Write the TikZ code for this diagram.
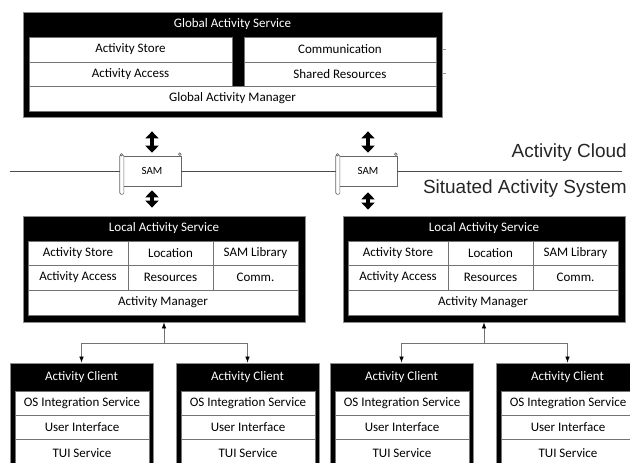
\documentclass[tikz,border=0pt]{standalone}
\usepackage{fontspec}
\setmainfont{Carlito}
\newfontfamily\tierfont{Liberation Sans}
\usetikzlibrary{arrows.meta,calc}

\tikzset{
  panel/.style={fill=black, draw=black!45, line width=0.8pt, inner sep=0pt, anchor=center},
  paneltitle/.style={text=white, inner sep=0pt, anchor=center},
  cell/.style={fill=white, draw=black!55, line width=0.6pt, inner sep=0pt, anchor=center, text=black},
  scroll/.style={fill=white, draw=black!60, line width=0.6pt, inner sep=0pt,
    minimum width=58pt, minimum height=30pt, font=\fontsize{11}{13}\selectfont},
  scrollpart/.style={fill=white, draw=black!60, line width=0.6pt},
  tier/.style={font=\tierfont\fontsize{19}{22}\selectfont, text=black!85, anchor=east, inner sep=0pt},
  boundary/.style={draw=black!70, line width=0.6pt},
  exchange/.style={line width=4.5pt, {Triangle[width=13pt,length=7pt]}-{Triangle[width=13pt,length=7pt]}},
  feed/.style={draw=black!55, line width=0.7pt, -{Latex[length=6pt,width=4.5pt,color=black]}},
  stub/.style={draw=black!40, line width=0.5pt},
}

% a white cell given by its corners: name, x1, y1, x2, y2, text
\newcommand\mkcell[6]{%
  \node[cell, minimum width={#4-#2}, minimum height={#5-#3}] (#1)
    at ({(#2+#4)/2},{(#3+#5)/2}) {#6};}
% a black panel with a title band: name, x1, y1, x2, y2, title, band height
\newcommand\mkpanel[7]{%
  \node[panel, minimum width={#4-#2}, minimum height={#5-#3}] (#1)
    at ({(#2+#4)/2},{(#3+#5)/2}) {};
  \node[paneltitle] (#1-title) at ({(#2+#4)/2},{#3+#7/2}) {#6};}
% a scroll-shaped SAM node: name, x, y
\newcommand\mkscroll[3]{%
  \node[scroll] (#1) at (#2,#3) {SAM};
  \draw[scrollpart, rounded corners=1.5pt]
    ([xshift=-3pt,yshift=1pt]#1.north west) rectangle ([xshift=1.2pt,yshift=-8pt]#1.south west);
  \draw[scrollpart] ([xshift=-1.2pt,yshift=1pt]#1.north west) circle (1.2pt);
  \draw[scrollpart] ([xshift=-1.5pt,yshift=1.5pt]#1.north east) circle (1.4pt);}

\begin{document}
\begin{tikzpicture}[x=1pt, y=-1pt, font=\fontsize{13}{15}\selectfont]
\useasboundingbox (0,0) rectangle (630,463);
\fill[white] (0,0) rectangle (630,463);
\clip (0,0) rectangle (630,463);

% ---------- global activity service ----------
\mkpanel{gas}{23}{12}{442}{117}{Global Activity Service}{25}
\mkcell{gstore}{29}{37}{232}{62}{Activity Store}
\mkcell{gaccess}{29}{62}{232}{86}{Activity Access}
\mkcell{gcomm}{244}{37}{436}{62}{Communication}
\mkcell{gshared}{244}{62}{436}{86}{Shared Resources}
\mkcell{gmgr}{29}{86}{436}{111}{Global Activity Manager}
\draw[stub] (443,49) -- (446,49);
\draw[stub] (443,73) -- (446,73);

% ---------- cloud boundary with SAM scrolls ----------
\mkscroll{samL}{152}{171}
\mkscroll{samR}{368}{171}
\coordinate (cloudL) at (10,171);
\coordinate (cloudR) at (622,171);
\draw[boundary] (cloudL) -- ([xshift=-3pt]samL.west);
\draw[boundary] (samL.east) -- ([xshift=-3pt]samR.west);
\draw[boundary] (samR.east) -- (cloudR);

\node[tier] (cloud) at (627,153) {Activity Cloud};
\node[tier] (situated) at (627,189) {Situated Activity System};

% ---------- local activity services ----------
\mkpanel{lasL}{23}{216}{305}{322}{Local Activity Service}{25}
\mkcell{lstoreL}{28}{241}{128}{265}{Activity Store}
\mkcell{llocL}{128}{241}{213}{265}{Location}
\mkcell{llibL}{213}{241}{298}{265}{SAM Library}
\mkcell{laccL}{28}{265}{128}{290}{Activity Access}
\mkcell{lresL}{128}{265}{213}{290}{Resources}
\mkcell{lcommL}{213}{265}{298}{290}{Comm.}
\mkcell{lmgrL}{28}{290}{298}{315}{Activity Manager}

\mkpanel{lasR}{343}{216}{625}{322}{Local Activity Service}{25}
\mkcell{lstoreR}{348}{241}{448}{265}{Activity Store}
\mkcell{llocR}{448}{241}{533}{265}{Location}
\mkcell{llibR}{533}{241}{618}{265}{SAM Library}
\mkcell{laccR}{348}{265}{448}{290}{Activity Access}
\mkcell{lresR}{448}{265}{533}{290}{Resources}
\mkcell{lcommR}{533}{265}{618}{290}{Comm.}
\mkcell{lmgrR}{348}{290}{618}{315}{Activity Manager}

% ---------- exchanges between tiers ----------
\draw[exchange] ($(gas.south -| samL.north)+(0,14)$) -- ($(samL.north)+(0,-3)$);
\draw[exchange] ($(samL.south)+(0,4)$) -- ($(lasL.north -| samL.south)+(0,-8)$);
\draw[exchange] ($(gas.south -| samR.north)+(0,14)$) -- ($(samR.north)+(0,-3)$);
\draw[exchange] ($(samR.south)+(0,6)$) -- ($(lasR.north -| samR.south)+(0,-6)$);

% ---------- activity clients ----------
\mkpanel{cA}{10}{363}{153}{480}{Activity Client}{28}
\mkcell{cAos}{15}{391}{149}{415}{OS Integration Service}
\mkcell{cAui}{15}{415}{149}{439}{User Interface}
\mkcell{cAtui}{15}{439}{149}{468}{TUI Service}

\mkpanel{cB}{176}{363}{319}{480}{Activity Client}{28}
\mkcell{cBos}{181}{391}{315}{415}{OS Integration Service}
\mkcell{cBui}{181}{415}{315}{439}{User Interface}
\mkcell{cBtui}{181}{439}{315}{468}{TUI Service}

\mkpanel{cC}{330}{363}{473}{480}{Activity Client}{28}
\mkcell{cCos}{335}{391}{469}{415}{OS Integration Service}
\mkcell{cCui}{335}{415}{469}{439}{User Interface}
\mkcell{cCtui}{335}{439}{469}{468}{TUI Service}

\mkpanel{cD}{496}{363}{639}{480}{Activity Client}{28}
\mkcell{cDos}{501}{391}{635}{415}{OS Integration Service}
\mkcell{cDui}{501}{415}{635}{439}{User Interface}
\mkcell{cDtui}{501}{439}{635}{468}{TUI Service}

% ---------- client fan-out ----------
\coordinate (forkL) at (164,343);
\coordinate (forkR) at (484,343);
\draw[feed] (forkL) -- (forkL |- lasL.south);
\draw[feed] (forkL) -| (cA.north);
\draw[feed] (forkL) -| (cB.north);
\draw[feed] (forkR) -- (forkR |- lasR.south);
\draw[feed] (forkR) -| (cC.north);
\draw[feed] (forkR) -| (cD.north);
\end{tikzpicture}
\end{document}
